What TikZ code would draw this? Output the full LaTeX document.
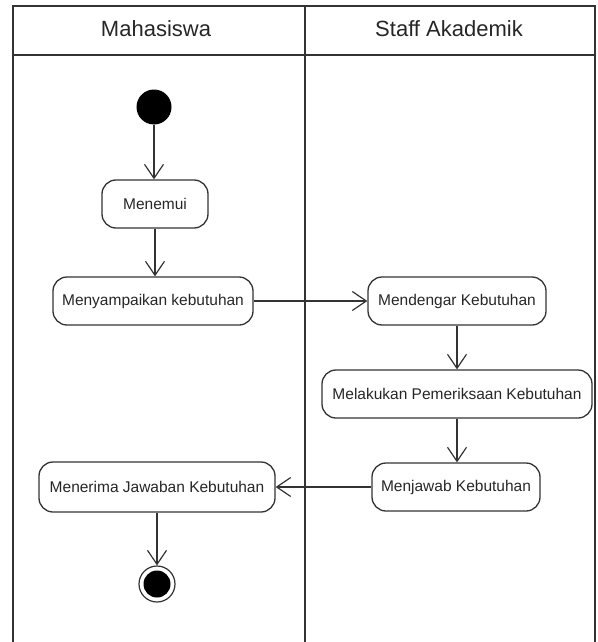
\documentclass[tikz,border=0pt]{standalone}
\usepackage{fontspec}
\setmainfont{Liberation Sans}
\usetikzlibrary{arrows.meta}
\definecolor{linec}{HTML}{333333}
\definecolor{textc}{HTML}{262626}
\begin{document}
\begin{tikzpicture}[x=1pt,y=-1pt,
  act/.style={draw=linec, line width=1.3pt, rounded corners=14pt, minimum height=48pt, inner sep=0pt, font=\fontsize{15.5}{17}\selectfont, text=textc},
  flow/.style={draw=linec, line width=1.2pt, -{Straight Barb[length=14pt,width=19pt,line width=1.2pt]}},
  lane/.style={draw=linec, line width=2.2pt},
  title/.style={font=\fontsize{22}{24}\selectfont, text=textc, inner sep=0pt}]
\useasboundingbox (0,0) rectangle (597,642);
% swimlane frame
\draw[lane] (13,642) -- (13,6) -- (595,6) -- (595,642);
\draw[lane] (13,55) -- (595,55);
\draw[lane] (305,6) -- (305,642);
\node[title] (t1) at (156,29) {Mahasiswa};
\node[title] (t2) at (449,29) {Staff Akademik};
% nodes
\node[circle, fill=black, minimum size=35pt, inner sep=0pt] (start) at (154,107) {};
\node[act, minimum width=106pt] (temui) at (155,204) {Menemui};
\node[act, minimum width=200pt] (say) at (153,301) {Menyampaikan kebutuhan};
\node[act, minimum width=178pt] (dengar) at (457,301) {Mendengar Kebutuhan};
\node[act, minimum width=270pt] (periksa) at (457,394) {Melakukan Pemeriksaan Kebutuhan};
\node[act, minimum width=168pt] (jawab) at (456,487) {Menjawab Kebutuhan};
\node[act, minimum width=236pt, minimum height=50pt] (terima) at (157,487) {Menerima Jawaban Kebutuhan};
\node[circle, draw=linec, line width=1.2pt, fill=white, minimum size=36pt, inner sep=0pt] (end) at (157,584) {};
\node[circle, fill=black, minimum size=27pt, inner sep=0pt] (endin) at (end) {};
% flows
\draw[flow] (start) -- (start |- temui.north);
\draw[flow] (temui) -- (temui |- say.north);
\draw[flow] (say.east) -- (dengar.west);
\draw[flow] (dengar) -- (dengar |- periksa.north);
\draw[flow] (periksa) -- (periksa |- jawab.north);
\draw[flow] (jawab.west) -- (terima.east);
\draw[flow] (terima) -- (end.north);
\end{tikzpicture}
\end{document}
